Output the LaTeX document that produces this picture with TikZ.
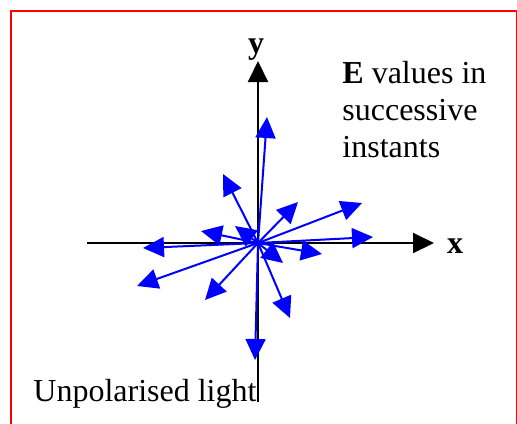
\documentclass[tikz,border=0pt]{standalone}
\usepackage{fontspec}
\setmainfont{Liberation Serif}
\usetikzlibrary{arrows.meta}
\definecolor{framered}{RGB}{255, 0, 0}
\definecolor{vecblue}{RGB}{0, 0, 255}

\begin{document}
\begin{tikzpicture}[x=0.5pt, y=-0.5pt, font=\fontsize{16}{18.5}\selectfont,
    axis/.style={line width=1pt, -{Triangle[length=10.5pt, width=10pt]}},
    evec/.style={line width=1pt, vecblue, -{Triangle[length=10.5pt, width=10pt]}}]
        \clip (0,0) rectangle (517,423);
        \draw[framered, line width=1pt] (11,11) rectangle (517,450);

        % axes
        \coordinate (o) at (258,243);
        \coordinate (xl) at (87,243);
        \coordinate (xr) at (434,243);
        \coordinate (yb) at (258,402);
        \coordinate (yt) at (258,61);
        \draw[axis] (xl) -- (xr);
        \draw[axis] (yb) -- (yt);
        \node[font=\fontsize{16}{18.5}\selectfont\bfseries, anchor=base] (xlab) at (455,253) {x};
        \node[font=\fontsize{16}{18.5}\selectfont\bfseries, anchor=base] (ylab) at (256,53) {y};

        % E in successive instants
        \foreach \n/\tx/\ty in {1/267/117, 2/223/174, 3/235/226, 4/201/231, 5/143/248,
                6/137/286, 7/205/300, 8/255/360, 9/290/318, 10/283/263,
                11/322/254, 12/373/237, 13/362/203, 14/298/202} {
            \coordinate (e\n) at (\tx,\ty);
            \draw[evec] (o) -- (e\n);
        }

        % labels
        \node[anchor=north west, align=left, inner sep=0pt] (note) at (342,61)
            {\textbf{E} values in\\successive\\instants};
        \node[anchor=base west, inner sep=0pt] (unpol) at (33,401) {Unpolarised light};
    \end{tikzpicture}
\end{document}
